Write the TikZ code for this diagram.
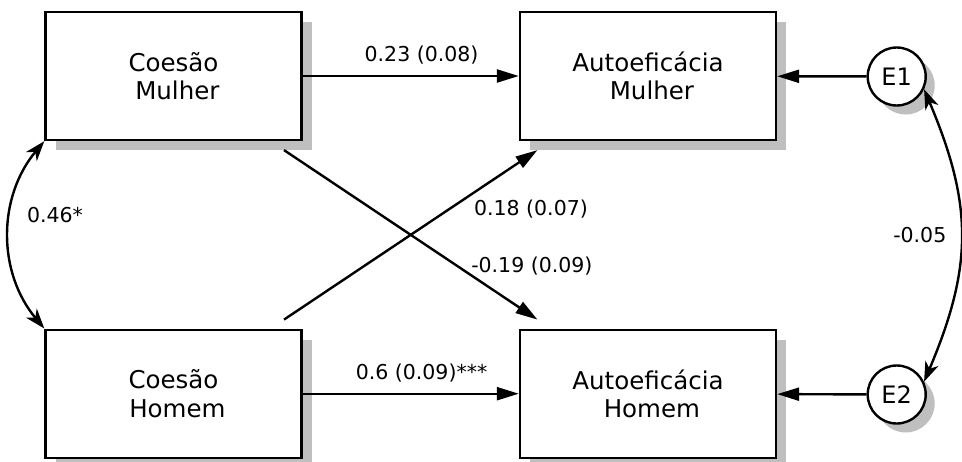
\documentclass[tikz,border=0pt]{standalone}
\usepackage{fontspec}
\setmainfont{DejaVu Sans}
\usetikzlibrary{arrows.meta,shadows}

\begin{document}
\begin{tikzpicture}[x=1pt,y=-1pt]
  \tikzstyle{B}=[draw,line width=2.4pt,fill=white,minimum width=256pt,minimum height=128pt,align=center,font=\fontsize{24.5}{28.5}\selectfont,drop shadow={shadow xshift=10pt,shadow yshift=-10pt,fill=black!25,opacity=1}]
  \tikzstyle{E}=[draw,circle,line width=2.4pt,fill=white,minimum size=58pt,inner sep=0pt,font=\fontsize{24}{28}\selectfont,drop shadow={shadow xshift=9pt,shadow yshift=-9pt,fill=black!25,opacity=1}]
  \tikzstyle{L}=[font=\fontsize{20.5}{24}\selectfont]
  \tikzstyle{A}=[line width=2.4pt,-{Triangle[length=22pt,width=13pt]}]
  \tikzstyle{C}=[line width=2.4pt,{Stealth[length=20pt,width=14pt,inset=6pt]}-{Stealth[length=20pt,width=14pt,inset=6pt]}]
  \useasboundingbox (0,0) rectangle (962,461);
  \clip (0,0) rectangle (962,461);
  \node[B] (C1) at (173.5,76) {Coesão\\~Mulher};
  \node[B] (A1) at (648,76) {Autoeficácia\\~Mulher};
  \node[B] (C2) at (173.5,393.7) {Coesão\\~Homem};
  \node[B] (A2) at (648,393.7) {Autoeficácia\\~Homem};
  \node[E] (E1) at (896.7,76.5) {E1};
  \node[E] (E2) at (896.7,394.5) {E2};

  \draw[A] (C1) -- node[L,pos=0.55,above=7pt] {0.23 (0.08)} (A1);
  \draw[A] (C2) -- node[L,pos=0.55,above=7pt] {0.6 (0.09)***} (A2);
  \draw[A,shorten <=16pt,shorten >=16pt] (C2) -- node[L,pos=0.71,anchor=north west] {0.18 (0.07)} (A1);
  \draw[A,shorten <=16pt,shorten >=16pt] (C1) -- node[L,pos=0.70,anchor=base west] {-0.19 (0.09)} (A2);
  \draw[A] (E1) -- (A1);
  \draw[A] (E2) -- (A2);

  \draw[C] (C1.south west) to[bend right=40] node[L,pos=0.4,right=12pt] {0.46*} (C2.north west);
  \draw[C] (E1.-25) to[bend left=23,looseness=1.1] node[L,midway,left=10pt] {-0.05} (E2.25);
\end{tikzpicture}
\end{document}
